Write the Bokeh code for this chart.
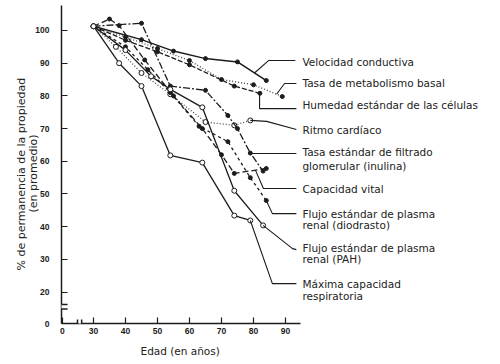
from bokeh.plotting import figure
from bokeh.models import Range1d, FixedTicker, Arrow, Title
from bokeh.core.properties import value
from bokeh.embed import file_html
from bokeh.resources import INLINE

# ---------------- data ----------------
x_ticks = [20.3, 30, 40, 50, 60, 70, 80, 90]
x_tick_text = {20.3: "0"}
y_ticks = [10.4, 20, 30, 40, 50, 60, 70, 80, 90, 100]
y_tick_text = {10.4: "0"}

age_velocidad = [30, 45, 55, 65, 75, 84]
val_velocidad = [101.3, 97.2, 93.7, 91.4, 90.4, 84.7]

age_metabolismo = [30, 40, 50, 60, 70, 80, 89]
val_metabolismo = [101.3, 98.0, 94.5, 90.8, 85.0, 83.4, 79.8]

age_humedad = [30, 40, 50, 60, 74, 82]
val_humedad = [101.3, 97.0, 93.5, 89.5, 83.0, 80.8]

age_ritmo = [30, 37, 45, 54, 65, 74, 79]
val_ritmo = [101.3, 95.0, 87.0, 80.5, 72.0, 71.0, 72.5]

age_filtrado = [30, 45, 54, 65, 72, 75, 79, 83]
val_filtrado = [101.3, 102.2, 83.0, 81.7, 74.0, 70.0, 62.5, 57.0]

age_vital = [30, 35, 38, 46, 55, 64, 70, 74, 84]
val_vital = [101.3, 103.5, 101.5, 91.0, 80.0, 70.0, 62.0, 56.3, 57.8]

age_diodrasto = [30, 40, 47, 54, 63, 72, 79, 84]
val_diodrasto = [101.3, 95.0, 88.0, 81.0, 70.7, 66.0, 55.0, 48.0]

age_pah = [30, 40, 48, 54, 64, 74, 83]
val_pah = [101.3, 94.0, 86.0, 82.0, 76.5, 51.0, 40.4]

age_maxima = [30, 38, 45, 54, 64, 74, 79]
val_maxima = [101.3, 90.0, 83.0, 61.8, 59.6, 43.4, 41.9]

label_lines = ["Velocidad conductiva", "Tasa de metabolismo basal",
               "Humedad estándar de las células", "Ritmo cardíaco",
               "Tasa estándar de filtrado", "glomerular (inulina)",
               "Capacidad vital", "Flujo estándar de plasma", "renal (diodrasto)",
               "Flujo estándar de plasma", "renal (PAH)",
               "Máxima capacidad", "respiratoria"]

x_title = "Edad (en años)"
y_title_1 = "% de permanencia de la propiedad"
y_title_2 = "(en promedio)"

# ---------------- layout / annotation positions ----------------
label_x = 95.3
label_y = [90.5, 83.8, 77.1, 69.7, 62.7, 58.7, 51.4, 44.0, 40.4, 33.6, 30.0, 22.6, 18.7]

leader_x = [[80.3, 84.7, 93.1], [87.2, 89.7, 93.4], [81.9, 81.9, 93.4],
            [79.0, 84.1, 93.4], [79.1, 93.4], [80.6, 83.1, 93.4],
            [84.0, 85.9, 93.4], [83.0, 92.2, 93.4], [79.0, 85.9, 93.4]]
leader_y = [[87.0, 90.8, 90.8], [80.5, 83.8, 83.8], [80.8, 76.1, 76.1],
            [72.5, 72.2, 69.7], [62.4, 62.4], [57.3, 51.7, 51.7],
            [48.0, 44.0, 44.0], [40.4, 33.3, 33.0], [41.9, 22.6, 22.6]]

INK = "#1c1c1c"
GREY = "#4a4a4a"
TXT = "#222222"

series = [
    (age_velocidad, val_velocidad, INK, "solid", 1.5, "filled"),
    (age_metabolismo, val_metabolismo, GREY, "1 2", 1.4, "filled"),
    (age_humedad, val_humedad, INK, "5 2", 1.3, "filled"),
    (age_ritmo, val_ritmo, GREY, "1 2", 1.3, "open"),
    (age_filtrado, val_filtrado, INK, "7 2 2 2", 1.3, "filled"),
    (age_vital, val_vital, INK, "6 3", 1.3, "filled"),
    (age_diodrasto, val_diodrasto, INK, "3 3", 1.3, "filled"),
    (age_pah, val_pah, INK, "solid", 1.3, "open"),
    (age_maxima, val_maxima, INK, "solid", 1.3, "open"),
]

p = figure(width=500, height=364, output_backend="svg", toolbar_location=None,
           x_range=Range1d(20.0, 157.19), y_range=Range1d(10.40, 109.17),
           min_border_left=61, min_border_right=0, min_border_top=0, min_border_bottom=41)
p.outline_line_color = None
p.grid.visible = False
p.background_fill_color = "white"
p.border_fill_color = "white"

for ax in (p.xaxis[0], p.yaxis[0]):
    ax.axis_line_color = INK
    ax.axis_line_width = 1.5
    ax.major_tick_line_color = INK
    ax.major_tick_line_width = 1.2
    ax.major_tick_in = 6
    ax.major_tick_out = 0
    ax.minor_tick_line_color = None
    ax.major_label_text_font = "Liberation Sans"
    ax.major_label_text_font_style = "bold"
    ax.major_label_text_font_size = "8.5px"
    ax.major_label_text_color = INK

p.xaxis.ticker = FixedTicker(ticks=x_ticks)
p.yaxis.ticker = FixedTicker(ticks=y_ticks)
p.xaxis.major_label_overrides = x_tick_text
p.yaxis.major_label_overrides = y_tick_text
p.xaxis.bounds = (20.0, 94.7)
p.yaxis.bounds = (10.40, 107.6)
p.xaxis.major_label_standoff = 4
p.yaxis.major_label_standoff = 12

# axis breaks: white gaps over the axis lines, then the break marks
for xs, ys, xe, ye, col, w in [
    (20.0, 16.3, 20.0, 14.9, "white", 4),
    (25.2, 10.40, 26.1, 10.40, "white", 4),
    (18.75, 16.2, 21.9, 16.2, INK, 1.5),
    (18.75, 14.85, 21.9, 14.85, INK, 1.5),
    (25.0, 11.62, 25.0, 9.17, INK, 1.5),
    (26.3, 11.62, 26.3, 9.17, INK, 1.5),
]:
    p.add_layout(Arrow(x_start=xs, y_start=ys, x_end=xe, y_end=ye, end=None,
                       line_color=col, line_width=w))

# series
for ages, vals, col, dash, lw, mk in series:
    p.line(ages, vals, line_color=col, line_dash=dash, line_width=lw)
    if mk == "filled":
        p.scatter(ages, vals, size=4, fill_color=INK, line_color=INK)
    else:
        p.scatter(ages, vals, size=5, fill_color="white", line_color=INK, line_width=1)

# leaders and labels
p.multi_line(leader_x, leader_y, line_color=INK, line_width=1.1)
p.text([label_x] * len(label_lines), label_y, text=label_lines,
       text_font=value("DejaVu Sans"), text_font_size="10.5px", text_color=TXT,
       text_baseline="middle", text_align="left")

# axis titles
p.add_layout(Title(text=y_title_2, align="left", offset=111, standoff=-14,
                   text_font="DejaVu Sans", text_font_size="11px",
                   text_font_style="normal", text_color=TXT), "left")
p.add_layout(Title(text=y_title_1, align="left", offset=53, standoff=8,
                   text_font="DejaVu Sans", text_font_size="11px",
                   text_font_style="normal", text_color=TXT), "left")
p.add_layout(Title(text=x_title, align="left", offset=79, standoff=12,
                   text_font="DejaVu Sans", text_font_size="10.5px",
                   text_font_style="normal", text_color=TXT), "below")

open("out.html", "w").write(file_html(p, INLINE))
